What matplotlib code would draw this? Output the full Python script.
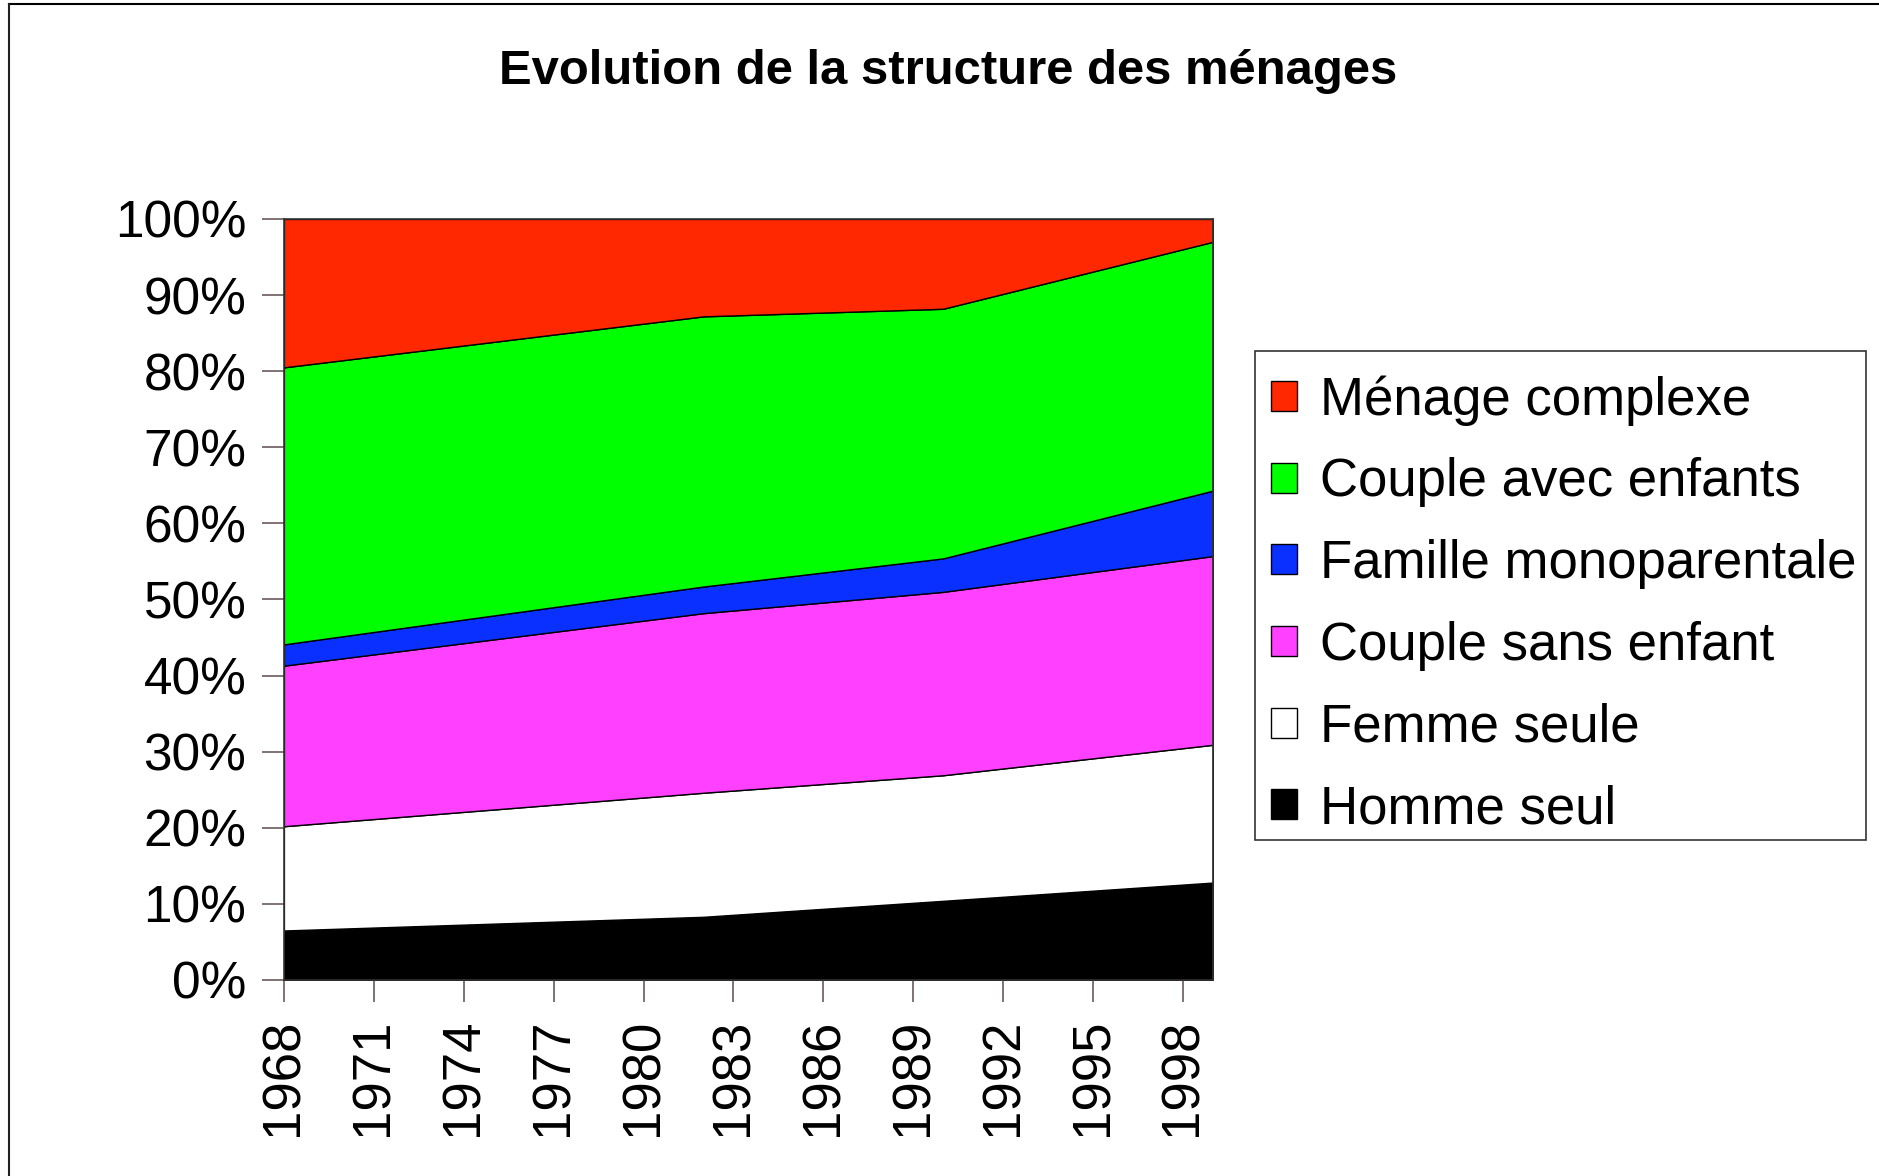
import matplotlib
matplotlib.use("Agg")
import matplotlib.pyplot as plt
from matplotlib.lines import Line2D
from matplotlib.patches import Patch, Rectangle
import numpy as np

years = [1968, 1982, 1990, 1999]
homme_seul = [6.5, 8.3, 10.4, 12.8]
femme_seule = [13.7, 16.3, 16.5, 18.1]
couple_sans_enfant = [21.1, 23.6, 24.1, 24.8]
famille_monoparentale = [2.8, 3.5, 4.4, 8.6]
couple_avec_enfants = [36.4, 35.5, 32.8, 32.7]
menage_complexe = [19.5, 12.8, 11.8, 3.0]

labels = ["Homme seul", "Femme seule", "Couple sans enfant",
          "Famille monoparentale", "Couple avec enfants", "Ménage complexe"]
colors = ["#000000", "#FFFFFF", "#FF40FF", "#0A30FF", "#00FF00", "#FF2800"]
tick_years = list(range(1968, 1999, 3))
title = "Evolution de la structure des ménages"

plt.rcParams['font.family'] = ['Liberation Sans', 'DejaVu Sans']

W, H = 1879, 1176
fig = plt.figure(figsize=(W / 100, H / 100), dpi=100)
ax = fig.add_axes([0.1511, 0.1667, 0.4944, 0.6471])

series = [homme_seul, femme_seule, couple_sans_enfant,
          famille_monoparentale, couple_avec_enfants, menage_complexe]
ax.stackplot(years, *series, colors=colors, edgecolor="black", linewidth=1.0)

ax.set_xlim(1968, 1999)
ax.set_ylim(0, 100)
ax.set_yticks(np.arange(0, 101, 10))
ax.set_yticklabels([f"{v}%" for v in range(0, 101, 10)])
ax.set_xticks(tick_years)
ax.set_xticklabels([str(y) for y in tick_years], rotation=90)
ax.tick_params(axis="both", length=16, width=1.2, color="#6a5a5a",
               direction="out")
ax.tick_params(axis="y", pad=11, labelsize=37)
ax.tick_params(axis="x", pad=12, labelsize=38)
for sp in ax.spines.values():
    sp.set_color("#333333")
    sp.set_linewidth(1.2)

fig.text(0.5045, 0.939, title, ha="center", va="center", fontsize=35.3,
         fontweight="bold")

handles = [Patch(facecolor=c, edgecolor="black", linewidth=1.0) for c in colors]
leg = fig.legend(handles[::-1], labels[::-1], loc="upper left",
                 bbox_to_anchor=(0.668, 0.7015 - 8.4 / H), fontsize=38,
                 frameon=False, handlelength=0.5, handleheight=0.5,
                 handletextpad=0.42, labelspacing=0.6, borderpad=0.3,
                 borderaxespad=0)

# legend box
fig.add_artist(Rectangle((1255 / W, 1 - 840 / H), 611 / W, 489 / H,
                         transform=fig.transFigure, facecolor="none",
                         edgecolor="#333333", linewidth=1.2))

# outer border (top and left)
fig.add_artist(Line2D([8.5 / W, 1], [1 - 4 / H, 1 - 4 / H],
                      transform=fig.transFigure, color="black", linewidth=1.5))
fig.add_artist(Line2D([8.5 / W, 8.5 / W], [0, 1 - 4 / H],
                      transform=fig.transFigure, color="#222222", linewidth=1.5))

fig.savefig("out.png", dpi=100)
